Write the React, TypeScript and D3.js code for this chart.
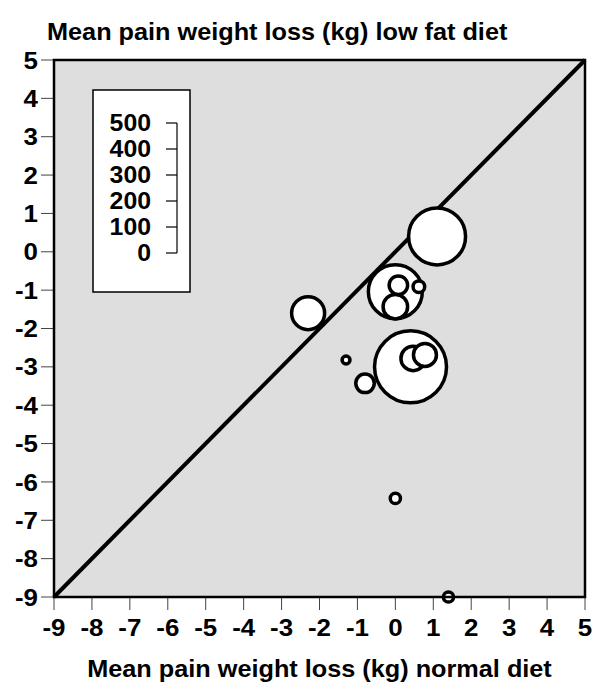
import React from "react";
import * as d3 from "d3";

const normalDiet = [1.1, -2.3, 0.0, 0.08, 0.0, 0.62, 0.4, 0.47, 0.78, -1.3, -0.8, 0.0, 1.4];
const lowFatDiet = [0.4, -1.6, -1.04, -0.87, -1.43, -0.91, -3.0, -2.78, -2.69, -2.82, -3.43, -6.43, -9.0];
const sampleSize = [313, 105, 281, 33, 58, 13, 500, 58, 51, 6, 33, 10, 10];
const axisTicks = [-9, -8, -7, -6, -5, -4, -3, -2, -1, 0, 1, 2, 3, 4, 5];
const legendTicks = [0, 100, 200, 300, 400, 500];

const W = 605;
const H = 682;
const L = 54, R = 585, T = 60, B = 597;
const SX = 1.08;
const FONT = "'Liberation Sans', Arial, Helvetica, sans-serif";

export default function App() {
  const x = d3.scaleLinear().domain([-9, 5]).range([L, R]);
  const y = d3.scaleLinear().domain([-9, 5]).range([B, T]);
  const r = d3.scaleSqrt().domain([0, 500]).range([0, 36]);
  const ly = d3.scaleLinear().domain([0, 500]).range([253, 123]);

  const pts = normalDiet
    .map((v, i) => ({ x: v, y: lowFatDiet[i], n: sampleSize[i] }))
    .sort((a, b) => b.n - a.n);

  const txt = (tx: number, ty: number, s: string, anchor: string, size: number, key?: any) => (
    <g key={key} transform={`translate(${tx},${ty}) scale(${SX},1)`}>
      <text x={0} y={0} textAnchor={anchor} fontSize={size} fontWeight="bold" fontFamily={FONT} fill="#000">
        {s}
      </text>
    </g>
  );

  return (
    <svg width={W} height={H} style={{ position: "absolute", left: 0, top: 0 }}>
      <rect x={0} y={0} width={W} height={H} fill="#fff" />
      {txt(47, 40, "Mean pain weight loss (kg) low fat diet", "start", 23.4)}
      <rect x={L} y={T} width={R - L} height={B - T} fill="#dedede" />
      {/* y ticks */}
      {axisTicks.map((t) => (
        <g key={"y" + t}>
          <line x1={L - 13} x2={L} y1={y(t)} y2={y(t)} stroke="#444" strokeWidth={1} />
          {txt(38, y(t) + 8.6, String(t), "end", 24)}
        </g>
      ))}
      {/* x ticks */}
      {axisTicks.map((t) => (
        <g key={"x" + t}>
          <line x1={x(t)} x2={x(t)} y1={B} y2={B + 13} stroke="#444" strokeWidth={1} />
          {txt(x(t), 636, String(t), "middle", 24)}
        </g>
      ))}
      {/* legend */}
      <rect x={93} y={90} width={97} height={202} fill="#fff" stroke="#000" strokeWidth={1.5} />
      <line x1={177} x2={177} y1={ly(500)} y2={ly(0)} stroke="#000" strokeWidth={1.2} />
      {legendTicks.map((t) => (
        <g key={"l" + t}>
          <line x1={166} x2={177} y1={ly(t)} y2={ly(t)} stroke="#000" strokeWidth={1.2} />
          {txt(151, ly(t) + 8.2, String(t), "end", 23)}
        </g>
      ))}
      {/* diagonal */}
      <line x1={x(-9)} y1={y(-9)} x2={x(5)} y2={y(5)} stroke="#000" strokeWidth={4} />
      {/* bubbles */}
      {pts.map((p, i) => (
        <circle key={"c" + i} cx={x(p.x)} cy={y(p.y)} r={r(p.n)} fill="#fff" stroke="#000" strokeWidth={3.5} />
      ))}
      <rect x={L} y={T} width={R - L} height={B - T} fill="none" stroke="#000" strokeWidth={2.5} />
      {txt((L + R) / 2, 677, "Mean pain weight loss (kg) normal diet", "middle", 23.4)}
    </svg>
  );
}
